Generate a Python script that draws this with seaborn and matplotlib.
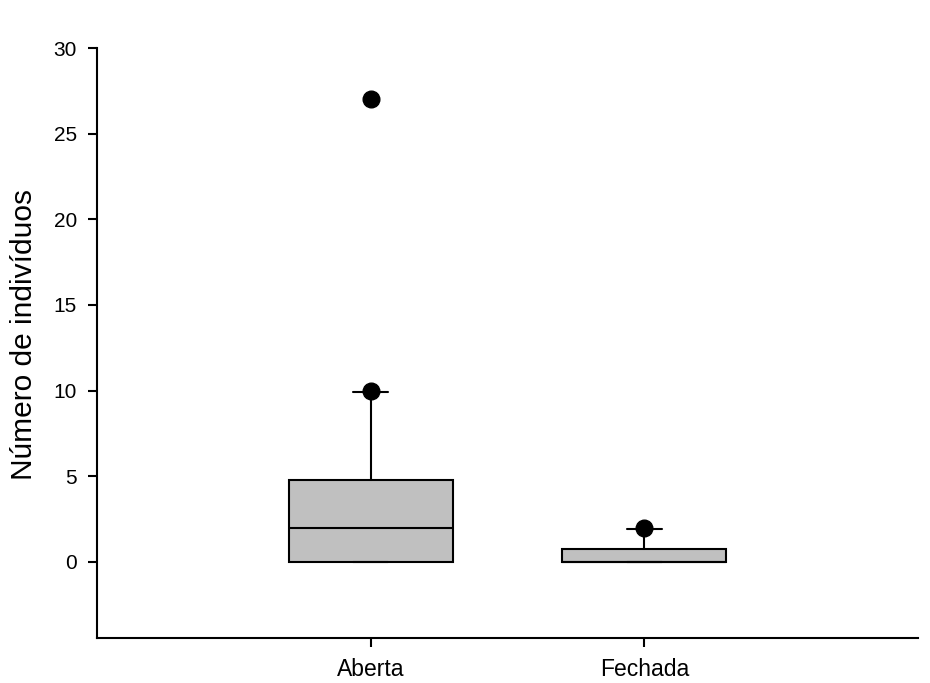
import matplotlib
matplotlib.use("Agg")
import matplotlib.pyplot as plt
import seaborn as sns

# Summary statistics per habitat
categories = ["Aberta", "Fechada"]
q1 = [0.0, 0.0]
medians = [2.0, 0.0]
q3 = [4.75, 0.75]
whisker_low = [0.0, 0.0]
whisker_high = [9.9, 1.9]
outliers = [[10.0, 27.0], [2.0]]

y_ticks = [0, 5, 10, 15, 20, 25, 30]
y_label = "Número de indivíduos"

sns.set_style("ticks")
plt.rcParams["font.family"] = ["Liberation Sans", "DejaVu Sans"]
plt.rcParams["text.color"] = "black"
plt.rcParams["axes.labelcolor"] = "black"
plt.rcParams["xtick.color"] = "black"
plt.rcParams["ytick.color"] = "black"

fig = plt.figure(figsize=(9.3, 6.83), dpi=100)
ax = fig.add_axes([97 / 930, 1 - 638 / 683, (918 - 97) / 930, (638 - 48) / 683])

stats = []
for i, name in enumerate(categories):
    stats.append({
        "label": name,
        "q1": q1[i],
        "med": medians[i],
        "q3": q3[i],
        "whislo": whisker_low[i],
        "whishi": whisker_high[i],
        "fliers": outliers[i],
    })

line_kw = dict(color="black", linewidth=1.5)
ax.bxp(
    stats,
    positions=range(len(categories)),
    widths=0.6,
    capwidths=0.13,
    patch_artist=True,
    showfliers=True,
    boxprops=dict(facecolor="#c0c0c0", edgecolor="black", linewidth=1.5),
    medianprops=line_kw,
    whiskerprops=line_kw,
    capprops=line_kw,
    flierprops=dict(marker="o", markerfacecolor="black", markeredgecolor="black",
                    markersize=12, linestyle="none"),
)

ax.set_xlim(-1, 2)
ax.set_ylim(-4.45, 30)
ax.set_yticks(y_ticks)
ax.set_xticks(range(len(categories)))
ax.set_xticklabels(categories)
ax.set_ylabel(y_label, fontsize=21.5, va="center")
ax.yaxis.set_label_coords(-0.089, 0.514)
ax.tick_params(axis="both", width=1.5, length=6.5, color="black")
ax.tick_params(axis="x", labelsize=16.5, pad=8)
ax.tick_params(axis="y", labelsize=15, pad=8)

for side in ("top", "right"):
    ax.spines[side].set_visible(False)
for side in ("left", "bottom"):
    ax.spines[side].set_linewidth(1.5)
    ax.spines[side].set_color("black")

fig.savefig("out.png", dpi=100, facecolor="white")
